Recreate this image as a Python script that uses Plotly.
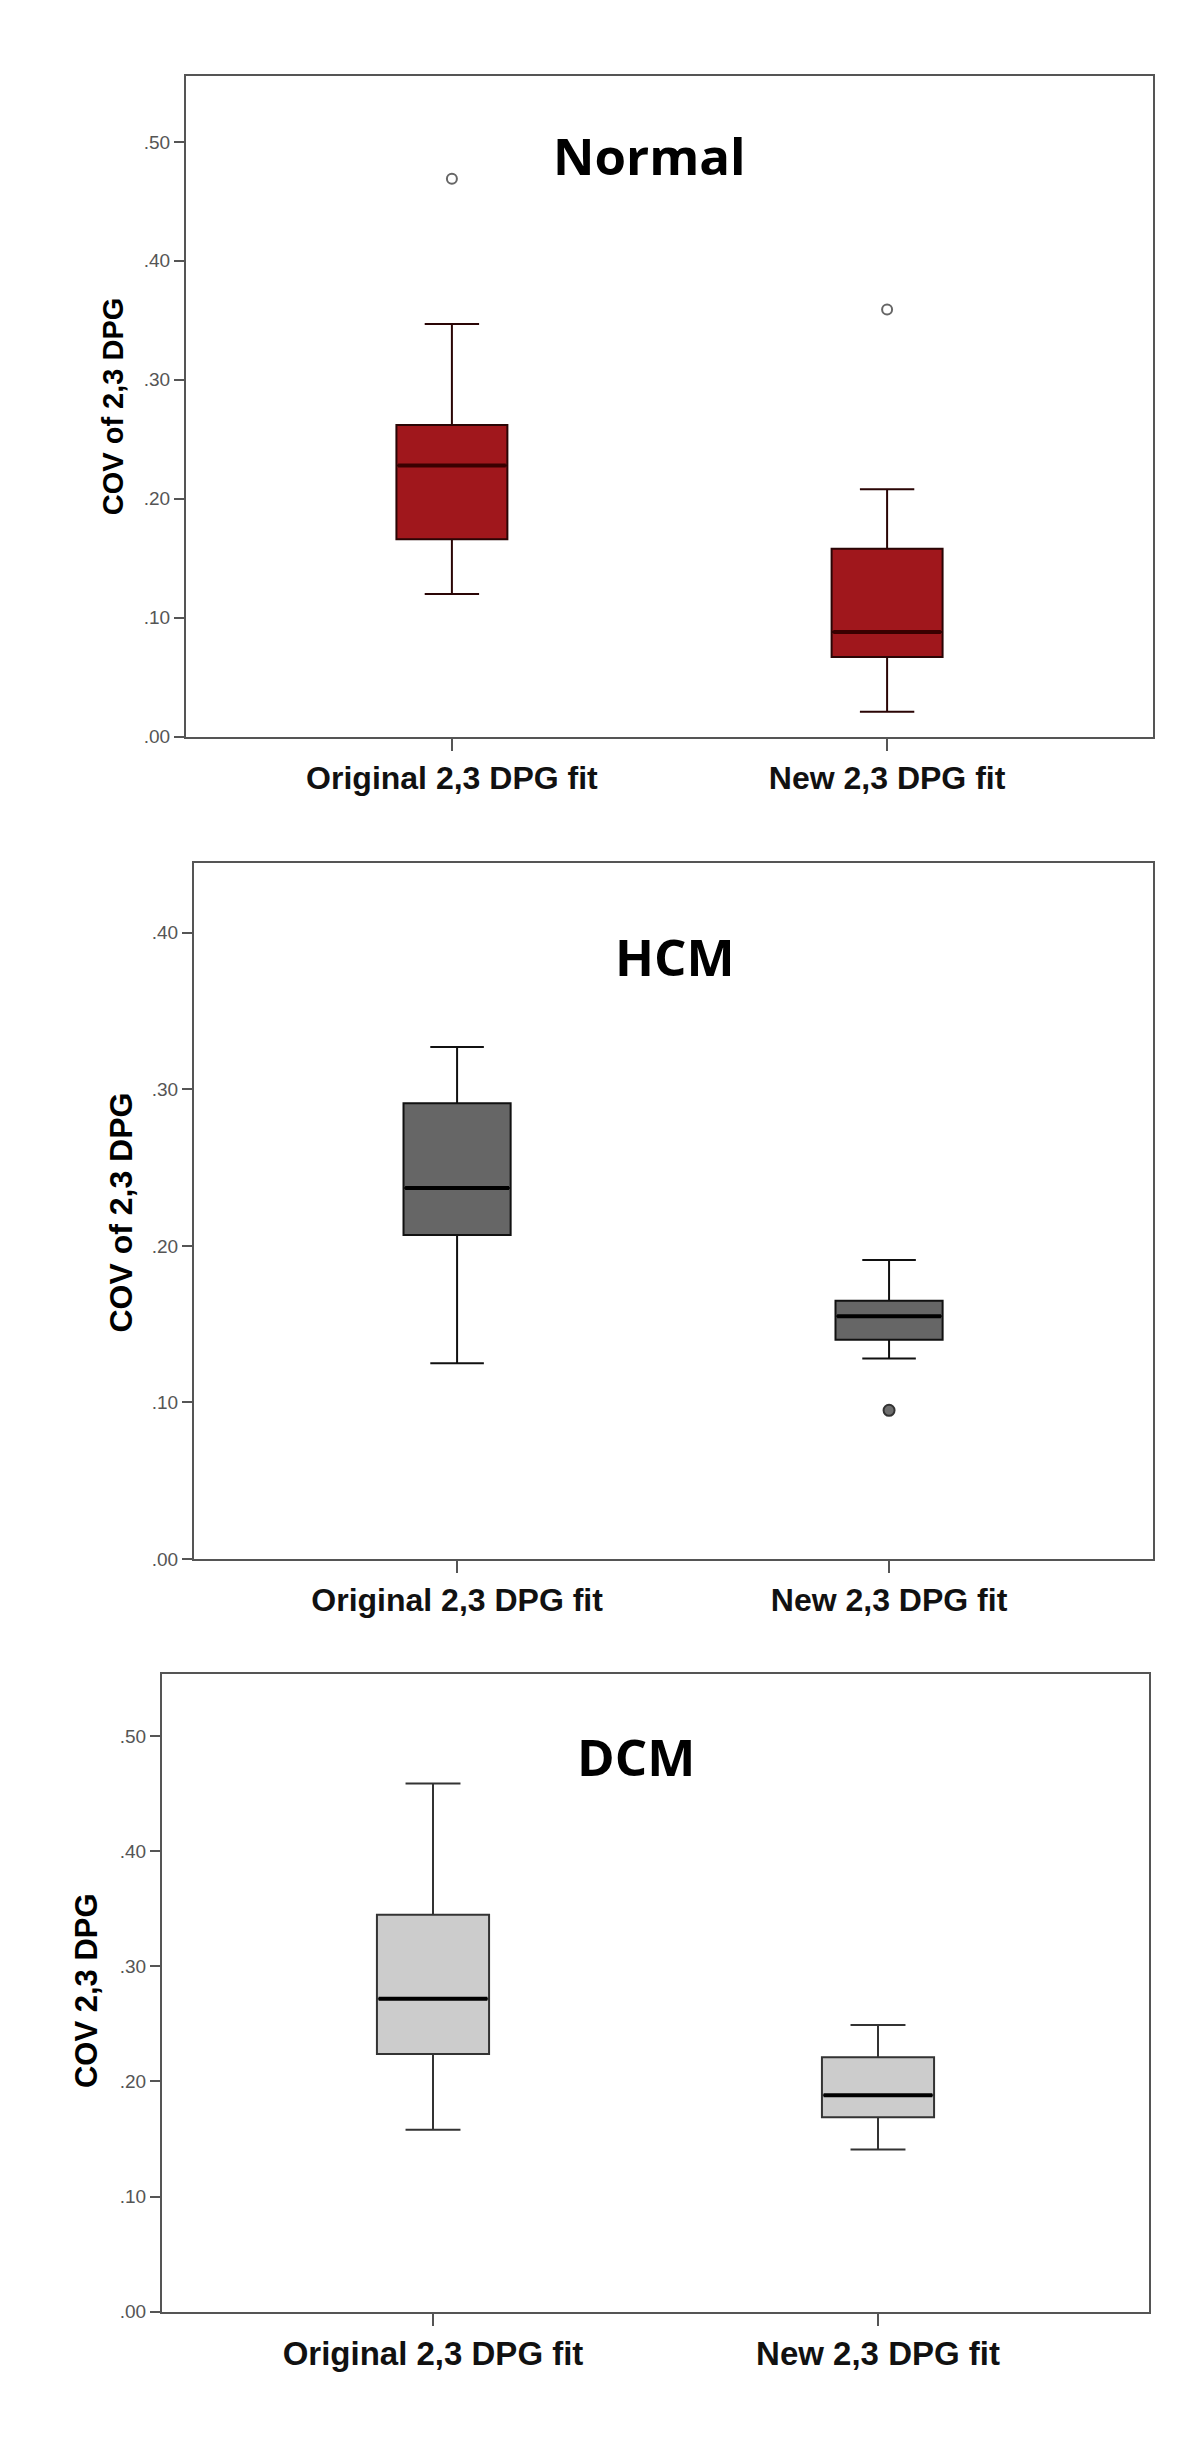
import plotly.graph_objects as go

# categories shared by all three panels
categories = ["Original 2,3 DPG fit", "New 2,3 DPG fit"]

# Normal
normal_q1 = [0.166, 0.067]
normal_median = [0.228, 0.088]
normal_q3 = [0.262, 0.158]
normal_low = [0.120, 0.021]
normal_high = [0.347, 0.208]
normal_outliers = [0.469, 0.359]

# HCM
hcm_q1 = [0.207, 0.140]
hcm_median = [0.237, 0.155]
hcm_q3 = [0.291, 0.165]
hcm_low = [0.125, 0.128]
hcm_high = [0.327, 0.191]
hcm_outlier_cat = ["New 2,3 DPG fit"]
hcm_outliers = [0.095]

# DCM
dcm_q1 = [0.224, 0.169]
dcm_median = [0.272, 0.188]
dcm_q3 = [0.345, 0.221]
dcm_low = [0.158, 0.141]
dcm_high = [0.459, 0.249]

tick_vals_5 = [0, 0.1, 0.2, 0.3, 0.4, 0.5]
tick_vals_4 = [0, 0.1, 0.2, 0.3, 0.4]
tick_text_5 = [".00", ".10", ".20", ".30", ".40", ".50"]
tick_text_4 = [".00", ".10", ".20", ".30", ".40"]

W, H = 1200, 2463


def px_x(v):
    return v / W


def px_y(v):
    return 1 - v / H


def add_box(fig, q1, med, q3, lo, hi, width, ww, fill, line, median_color, xa, ya):
    fig.add_trace(go.Box(
        x=categories, q1=q1, median=med, q3=q3, lowerfence=lo, upperfence=hi,
        width=width, whiskerwidth=ww, boxpoints=False,
        fillcolor=fill, line=dict(color=line, width=2),
        xaxis=xa, yaxis=ya, showlegend=False, hoverinfo="skip"
    ))
    # thicker median bar drawn as a flat box on top
    fig.add_trace(go.Box(
        x=categories, q1=med, median=med, q3=med, lowerfence=med, upperfence=med,
        width=width * 0.97, whiskerwidth=0, boxpoints=False,
        fillcolor="rgba(0,0,0,0)", line=dict(color=median_color, width=4),
        xaxis=xa, yaxis=ya, showlegend=False, hoverinfo="skip"
    ))


fig = go.Figure()

add_box(fig, normal_q1, normal_median, normal_q3, normal_low, normal_high,
        0.255, 0.49, "#A0171C", "#2a0505", "#3a0000", "x", "y")
fig.add_trace(go.Scatter(
    x=categories, y=normal_outliers, mode="markers",
    marker=dict(symbol="circle-open", size=10, color="#666666", line=dict(width=2)),
    xaxis="x", yaxis="y", showlegend=False, hoverinfo="skip"
))

add_box(fig, hcm_q1, hcm_median, hcm_q3, hcm_low, hcm_high,
        0.248, 0.5, "#666666", "#111111", "#000000", "x2", "y2")
fig.add_trace(go.Scatter(
    x=hcm_outlier_cat, y=hcm_outliers, mode="markers",
    marker=dict(symbol="circle", size=11, color="#6e6e6e", line=dict(width=2, color="#333333")),
    xaxis="x2", yaxis="y2", showlegend=False, hoverinfo="skip"
))

add_box(fig, dcm_q1, dcm_median, dcm_q3, dcm_low, dcm_high,
        0.252, 0.49, "#CCCCCC", "#333333", "#000000", "x3", "y3")

axis_line = dict(showline=True, linecolor="#555555", linewidth=2, mirror=True,
                 showgrid=False, zeroline=False, ticks="outside", tickcolor="#555555",
                 tickwidth=2)

xfont = dict(family="Liberation Sans, Arial", size=32, color="#111111", weight="bold")
yfont = dict(family="Liberation Sans, Arial", size=19, color="#555555")

fig.update_layout(
    width=W, height=H,
    margin=dict(l=0, r=0, t=0, b=0),
    paper_bgcolor="white", plot_bgcolor="white",
    xaxis=dict(domain=[px_x(178), px_x(1145)], anchor="y", type="category",
               range=[-0.611, 1.611], ticklen=12, tickfont=xfont, **axis_line),
    yaxis=dict(domain=[px_y(732), px_y(68)], anchor="x", range=[0, 0.5556],
               tickvals=tick_vals_5, ticktext=tick_text_5, ticklen=10,
               tickfont=yfont, **axis_line),
    xaxis2=dict(domain=[px_x(186), px_x(1145)], anchor="y2", type="category",
                range=[-0.609, 1.611], ticklen=12, tickfont=xfont, **axis_line),
    yaxis2=dict(domain=[px_y(1558), px_y(859)], anchor="x2", range=[0, 0.4444],
                tickvals=tick_vals_4, ticktext=tick_text_4, ticklen=10,
                tickfont=yfont, **axis_line),
    xaxis3=dict(domain=[px_x(154), px_x(1141)], anchor="y3", type="category",
                range=[-0.609, 1.609], ticklen=12, tickfont=dict(xfont, size=33), **axis_line),
    yaxis3=dict(domain=[px_y(2314), px_y(1673)], anchor="x3", range=[0, 0.5545],
                tickvals=tick_vals_5, ticktext=tick_text_5, ticklen=10,
                tickfont=yfont, **axis_line),
)

title_font = dict(family="Open Sans", size=51, color="#000000", weight="bold")
ylab_font = dict(family="Liberation Sans, Arial", color="#000000", weight="bold")

annotations = [
    dict(text="Normal", x=px_x(641), y=px_y(148), font=title_font, textangle=0),
    dict(text="HCM", x=px_x(667), y=px_y(952), font=title_font, textangle=0),
    dict(text="DCM", x=px_x(628), y=px_y(1756), font=title_font, textangle=0),
    dict(text="COV of 2,3 DPG", x=px_x(105), y=px_y(400), font=dict(ylab_font, size=29), textangle=-90),
    dict(text="COV of 2,3 DPG", x=px_x(113), y=px_y(1210), font=dict(ylab_font, size=32), textangle=-90),
    dict(text="COV 2,3 DPG", x=px_x(78), y=px_y(1992), font=dict(ylab_font, size=31), textangle=-90),
]
for a in annotations:
    fig.add_annotation(xref="paper", yref="paper", showarrow=False,
                       xanchor="center", yanchor="middle", **a)

fig.write_html("out.html")
